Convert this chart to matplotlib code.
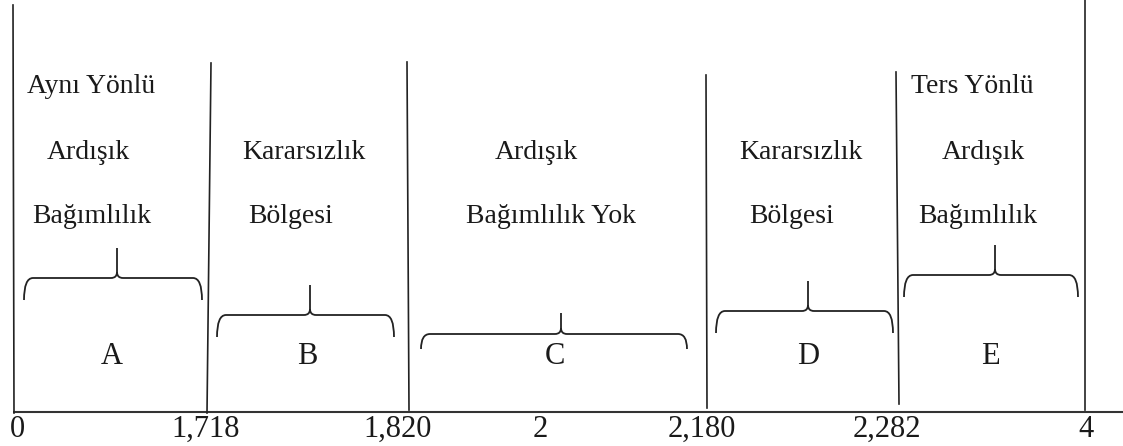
import matplotlib.pyplot as plt
from matplotlib.path import Path
from matplotlib.patches import PathPatch

# Durbin-Watson decision regions
tick_values = ['0', '1,718', '1,820', '2', '2,180', '2,282', '4']
region_letters = ['A', 'B', 'C', 'D', 'E']
region_lines = [
    ['Aynı Yönlü', 'Ardışık', 'Bağımlılık'],
    ['', 'Kararsızlık', 'Bölgesi'],
    ['', 'Ardışık', 'Bağımlılık Yok'],
    ['', 'Kararsızlık', 'Bölgesi'],
    ['Ters Yönlü', 'Ardışık', 'Bağımlılık'],
]

# schematic layout (pixel space, not to scale)
tick_x = [17, 206, 398, 540, 702, 887, 1086]
line_top_x = [13, 211, 407, 706, 896, 1085]
line_bot_x = [14, 207, 409, 707, 899, 1085]
line_top_y = [5, 63, 62, 75, 72, 0]
line_bot_y = [413, 413, 410, 408, 404, 410]
row_base = [93, 159, 223]
text_x = [[91, 88, 92], [0, 304, 291], [0, 536, 551], [0, 801, 792], [972, 983, 978]]
letter_x = [112, 307, 555, 808, 990]
letter_base = 364
tick_base = 437
# brace: left, right, middle, baseline y, end drop, peak rise
braces = [
    (24, 202, 117, 278, 22, 30),
    (217, 394, 310, 315, 22, 30),
    (421, 687, 561, 334, 15, 21),
    (716, 893, 808, 311, 22, 30),
    (904, 1078, 995, 275, 22, 30),
]

W, H = 1123, 446
fig = plt.figure(figsize=(W / 100, H / 100), dpi=100)
ax = fig.add_axes([0, 0, 1, 1])
ax.set_xlim(0, W)
ax.set_ylim(H, 0)
ax.axis('off')

font = dict(family=['Liberation Serif', 'DejaVu Serif'], color='#1a1a1a')
ink = '#222222'

# axis line
ax.plot([13, W], [412, 412], color='#333333', lw=1.5, solid_capstyle='butt')

# region boundaries
for xt, xb, yt, yb in zip(line_top_x, line_bot_x, line_top_y, line_bot_y):
    ax.plot([xt, xb], [yt, yb], color=ink, lw=1.2)

# tick labels
for x, lab in zip(tick_x, tick_values):
    ax.text(x, tick_base, lab, ha='center', va='baseline', fontsize=22, **font)

# region descriptions
for lines, xs in zip(region_lines, text_x):
    for txt, x, y in zip(lines, xs, row_base):
        if txt:
            ax.text(x, y, txt, ha='center', va='baseline', fontsize=20, **font)

# letters
for x, lab in zip(letter_x, region_letters):
    ax.text(x, letter_base, lab, ha='center', va='baseline', fontsize=22, **font)


def brace(x0, x1, xm, y, drop, rise):
    r = 9
    r2 = 6
    verts = [(x0, y + drop), (x0, y), (x0 + r, y),
             (xm - r2, y), (xm, y), (xm, y - r2), (xm, y - rise)]
    codes = [Path.MOVETO, Path.CURVE3, Path.CURVE3,
             Path.LINETO, Path.CURVE3, Path.CURVE3, Path.LINETO]
    ax.add_patch(PathPatch(Path(verts, codes), fill=False, ec=ink, lw=1.3))
    verts = [(x1, y + drop), (x1, y), (x1 - r, y),
             (xm + r2, y), (xm, y), (xm, y - r2)]
    codes = [Path.MOVETO, Path.CURVE3, Path.CURVE3,
             Path.LINETO, Path.CURVE3, Path.CURVE3]
    ax.add_patch(PathPatch(Path(verts, codes), fill=False, ec=ink, lw=1.3))


for b in braces:
    brace(*b)

fig.savefig('out.png', dpi=100, facecolor='white')
